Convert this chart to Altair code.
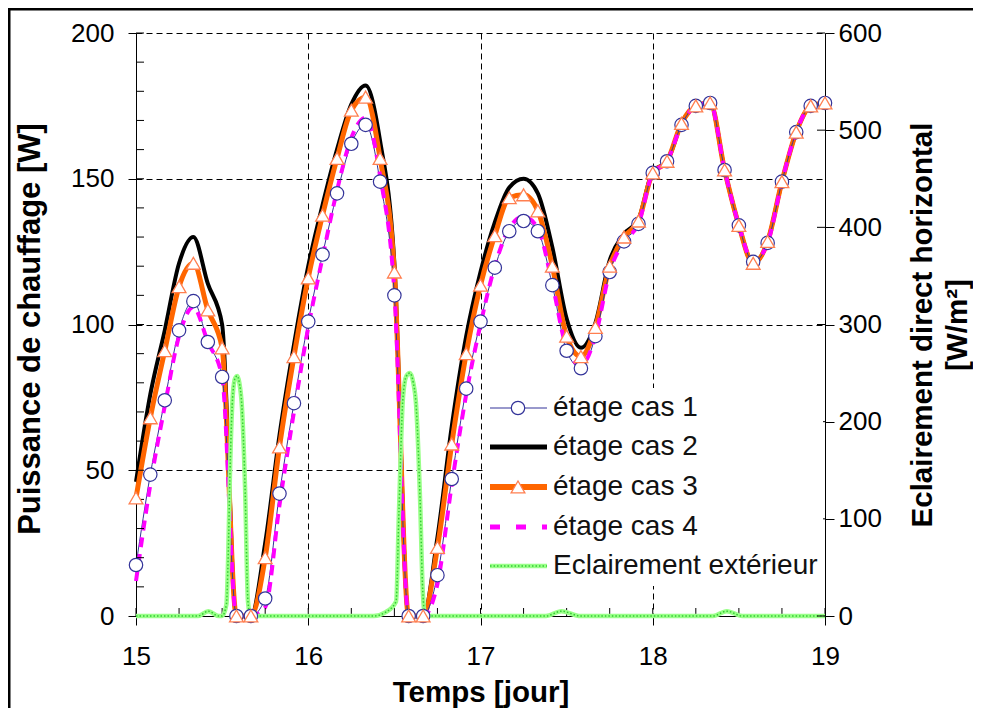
import altair as alt
import pandas as pd

# ---------------- data ----------------
days = [15.000, 15.083, 15.167, 15.250, 15.333, 15.417, 15.500, 15.583, 15.667, 15.750, 15.833, 15.917,
        16.000, 16.083, 16.167, 16.250, 16.333, 16.417, 16.500, 16.583, 16.667, 16.750, 16.833, 16.917,
        17.000, 17.083, 17.167, 17.250, 17.333, 17.417, 17.500, 17.583, 17.667, 17.750, 17.833, 17.917,
        18.000, 18.083, 18.167, 18.250, 18.333, 18.417, 18.500, 18.583, 18.667, 18.750, 18.833, 18.917,
        19.000]

case1 = [17.5, 48.5, 74, 98, 108, 94, 82, 0, 0, 6, 42, 73,
         101, 124, 145, 162, 168.5, 149, 110, 0, 0, 14, 47, 78,
         101, 119.5, 132, 135.5, 132, 113.5, 91, 85, 96, 118, 128.5, 134.5,
         152, 156, 168.5, 175, 176, 153, 134, 121.5, 128, 149, 166, 175,
         176]

case2 = [46, 76, 98, 121, 130, 114, 100, 0, 0, 25, 62, 93,
         120, 141, 160, 175.5, 182, 163, 121, 0, 0, 27, 65, 96,
         118, 135, 147, 150, 145, 126.5, 102, 92, 100.5, 122, 131, 136,
         152.5, 156, 169, 175, 176, 153, 134, 121, 128.5, 149, 166, 175,
         176]

case3 = [40.5, 68, 91, 113, 121, 105, 92, 0, 0, 20, 58, 89,
         116, 137.5, 157, 173.5, 178, 157, 118, 0, 0, 23.5, 59, 90,
         113.5, 130.5, 143.5, 144.5, 139, 120, 96, 89, 99, 120, 130, 135.5,
         152, 156, 169, 175, 176, 153, 134, 121, 128.5, 149, 166, 175,
         176]

case4 = [12, 45, 72, 96, 106, 94, 82, 0, 0, 3, 38, 70,
         99, 123, 146, 164, 171, 151, 111, 0, 0, 11, 45, 76,
         100, 120, 133, 137, 133, 114, 92, 86, 96, 118, 128.5, 134.5,
         152, 156, 168.5, 175, 176, 153, 134, 121.5, 128, 149, 166, 175,
         176]

green_days = [15.00, 15.36, 15.42, 15.48, 15.50, 15.525, 15.535, 15.546, 15.563, 15.576, 15.588,
              15.600, 15.615, 15.633, 15.650, 15.665, 16.38, 16.45, 16.51, 16.527, 16.55, 16.57,
              16.59, 16.61, 16.625, 16.649, 16.665, 16.68, 17.38, 17.47, 17.58, 18.35, 18.43,
              18.52, 19.00]
green_vals = [0, 0, 5, 0, 0, 12, 60, 150, 230, 245, 247,
              240, 215, 133, 15, 0, 0, 4, 15, 110, 225, 247,
              250, 240, 220, 121, 25, 0, 0, 5, 0, 0, 5,
              0, 0]

legend_labels = ["étage cas 1", "étage cas 2", "étage cas 3", "étage cas 4", "Eclairement extérieur"]

x_ticks = [15, 16, 17, 18, 19]
x_minor = [15.0, 15.25, 15.5, 15.75, 16.0, 16.25, 16.5, 16.75, 17.0, 17.25, 17.5, 17.75,
           18.0, 18.25, 18.5, 18.75, 19.0]
y_left_ticks = [0, 50, 100, 150, 200]
y_left_minor = [0, 10, 20, 30, 40, 50, 60, 70, 80, 90, 100, 110, 120, 130, 140, 150,
                160, 170, 180, 190, 200]
y_right_ticks = [0, 100, 200, 300, 400, 500, 600]

# ---------------- layout / style ----------------
W, H = 689, 583
PAD = {"left": 128, "top": 25, "right": 148, "bottom": 92}
FONT = "Liberation Sans"

NAVY = "#333399"
ORANGE = "#FF6600"
TRI = "#FF7F50"
MAGENTA = "#FF00FF"
GREEN_BASE = "#99FF88"
GREEN_DOT = "#33CC33"

df = pd.DataFrame({"t": days, "c1": case1, "c2": case2, "c3": case3, "c4": case4})
gdf = pd.DataFrame({"t": green_days, "g": green_vals})

xscale = alt.Scale(domain=[15, 19], nice=False, zero=False)
yscale = alt.Scale(domain=[0, 200], nice=False, zero=False)
gscale = alt.Scale(domain=[0, 600], nice=False, zero=False)

common_axis = dict(labelFont=FONT, labelFontSize=26, labelColor="#000",
                   titleFont=FONT, titleFontWeight="bold", titleColor="#000",
                   domainColor="#000", domainWidth=1, tickColor="#000", tickWidth=1)

x_axis = alt.Axis(values=x_ticks, format="d", title="Temps [jour]", tickSize=9, labelPadding=18,
                  grid=True, gridDash=[6, 4], gridColor="#000", gridWidth=1, gridOpacity=1,
                  titleX=W / 2, titleY=76, titleBaseline="middle", titleAlign="center",
                  titleFontSize=29.5, labelFlush=False, **common_axis)
y_axis = alt.Axis(orient="left", values=y_left_ticks, title="Puissance de chauffage [W]",
                  tickSize=8, labelPadding=14, grid=True, gridDash=[6, 4], gridColor="#000",
                  gridWidth=1, gridOpacity=1, titleAngle=270, titleX=-106, titleY=H / 2 + 4,
                  titleBaseline="middle", titleAlign="center", titleFontSize=31,
                  labelFlush=False, **common_axis)
g_axis = alt.Axis(orient="right", values=y_right_ticks,
                  title=["Eclairement direct horizontal", "[W/m²]"],
                  tickSize=9, labelPadding=4, grid=False, titleAngle=270, titleX=97,
                  titleY=H / 2, titleBaseline="middle", titleAlign="center", titleLineHeight=35,
                  titleFontSize=29.5, labelFlush=False, **common_axis)

X = alt.X("t:Q", scale=xscale, axis=x_axis)


def YL(col):
    return alt.Y(f"{col}:Q", scale=yscale, axis=y_axis)


def YG(col):
    return alt.Y(f"{col}:Q", scale=gscale, axis=g_axis)


def series_line(col, **kw):
    return alt.Chart(df).mark_line(interpolate="monotone", **kw).encode(x=X, y=YL(col))


black = series_line("c2", color="#000", strokeWidth=4)
orange = series_line("c3", color=ORANGE, strokeWidth=5)
navy = series_line("c1", color=NAVY, strokeWidth=1)
magenta = series_line("c4", color=MAGENTA, strokeWidth=4, strokeDash=[10, 7])

bottom_minor = alt.Chart(pd.DataFrame({"t": x_minor})).mark_rule(color="#000", strokeWidth=1).encode(
    x=X, y=alt.value(H - 8), y2=alt.value(H))
left_minor = alt.Chart(pd.DataFrame({"v": y_left_minor})).mark_rule(color="#000", strokeWidth=1).encode(
    y=YL("v"), x=alt.value(0), x2=alt.value(8))

left_group = alt.layer(black, orange, navy, magenta, bottom_minor, left_minor)

green_base = alt.Chart(gdf).mark_line(interpolate="monotone", color=GREEN_BASE, strokeWidth=4.5).encode(
    x=X, y=YG("g"))
green_dots = alt.Chart(gdf).mark_line(interpolate="monotone", color=GREEN_DOT, strokeWidth=1.5,
                                      strokeDash=[1.5, 2]).encode(x=X, y=YG("g"))
right_minor = alt.Chart(pd.DataFrame({"v": y_right_ticks})).mark_rule(color="#000", strokeWidth=1).encode(
    y=YG("v"), x=alt.value(W - 8), x2=alt.value(W))
green_group = alt.layer(green_base, green_dots, right_minor)

circles = alt.Chart(df).mark_point(shape="circle", size=180, filled=True, fill="white",
                                   stroke=NAVY, strokeWidth=1.2, opacity=1).encode(
    x=X, y=alt.Y("c1:Q", scale=yscale, axis=None))
triangles = alt.Chart(df).mark_point(shape="triangle-up", size=190, filled=True, fill="white",
                                     stroke=TRI, strokeWidth=1.3, opacity=1).encode(
    x=X, y=alt.Y("c3:Q", scale=yscale, axis=None))
marker_group = alt.layer(circles, triangles)

# ---------------- legend (drawn inside plot) ----------------
LX0, LX1, LXM, LTX = 354, 411, 382, 417
LYS = [375, 414, 454, 494, 533]
one = pd.DataFrame({"k": [0]})

leg_layers = [alt.Chart(one).mark_rect(color="white").encode(
    x=alt.value(350), x2=alt.value(687), y=alt.value(355), y2=alt.value(553))]


def leg_rule(y, **kw):
    return alt.Chart(one).mark_rule(**kw).encode(x=alt.value(LX0), x2=alt.value(LX1), y=alt.value(y))


leg_layers += [
    leg_rule(LYS[0], color=NAVY, strokeWidth=1),
    alt.Chart(one).mark_point(shape="circle", size=180, filled=True, fill="white", stroke=NAVY,
                              strokeWidth=1.2, opacity=1).encode(x=alt.value(LXM), y=alt.value(LYS[0])),
    leg_rule(LYS[1], color="#000", strokeWidth=5),
    leg_rule(LYS[2], color=ORANGE, strokeWidth=6),
    alt.Chart(one).mark_point(shape="triangle-up", size=190, filled=True, fill="white", stroke=TRI,
                              strokeWidth=1.3, opacity=1).encode(x=alt.value(LXM), y=alt.value(LYS[2])),
    leg_rule(LYS[3], color=MAGENTA, strokeWidth=5, strokeDash=[10, 16]),
    leg_rule(LYS[4], color=GREEN_BASE, strokeWidth=4.5),
    leg_rule(LYS[4], color=GREEN_DOT, strokeWidth=1.5, strokeDash=[1.5, 2]),
]
for lab, ly in zip(legend_labels, LYS):
    leg_layers.append(
        alt.Chart(pd.DataFrame({"label": [lab]})).mark_text(
            align="left", baseline="middle", font=FONT, fontSize=28, color="#111").encode(
            text="label:N", x=alt.value(LTX), y=alt.value(ly)))
legend_group = alt.layer(*leg_layers)

# frame of the picture (top and left edges)
frame = alt.layer(
    alt.Chart(one).mark_rule(color="#000", strokeWidth=3).encode(
        x=alt.value(-127), y=alt.value(-PAD["top"]), y2=alt.value(H + PAD["bottom"])),
    alt.Chart(one).mark_rule(color="#000", strokeWidth=3).encode(
        y=alt.value(-PAD["top"] + 1), x=alt.value(-PAD["left"]), x2=alt.value(W + PAD["right"])),
)

chart = alt.layer(left_group, green_group, marker_group, legend_group, frame).resolve_scale(
    y="independent"
).properties(
    width=W, height=H, padding=PAD, autosize=alt.AutoSizeParams(type="none"),
    background="white"
).configure_view(stroke=None)

chart.save("out.html", embed_options={"renderer": "svg", "actions": False})
